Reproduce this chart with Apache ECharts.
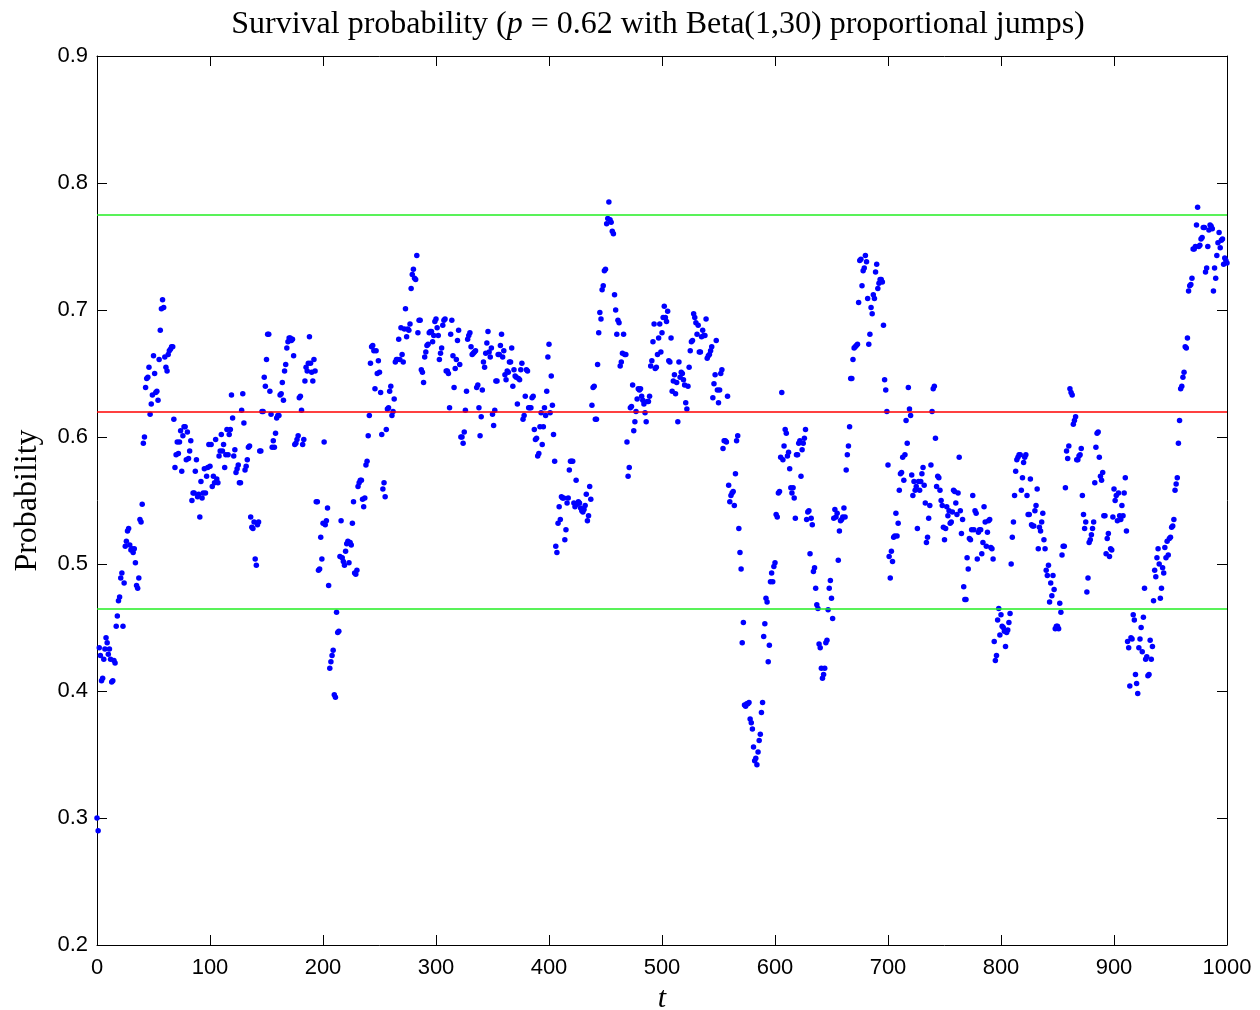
<!DOCTYPE html>
<html>
<head>
<meta charset="utf-8">
<script src="https://cdn.jsdelivr.net/npm/echarts@6/dist/echarts.min.js"></script>
<style>
  html, body { margin: 0; padding: 0; background: #fff; }
  #chart { width: 1260px; height: 1010px; }
</style>
</head>
<body>
<div id="chart"></div>
<script>
// survival probability, one value per step t, split in chunks
const probT000 = [0.300,0.290,0.434,0.428,0.408,0.410,0.425,0.433,0.442,0.438,0.429,0.433,0.425,0.407,0.408,0.424,0.422,0.451,0.459,0.471,
  0.474,0.489,0.493,0.451,0.485,0.514,0.518,0.526,0.528,0.515,0.511,0.512,0.509,0.512,0.501,0.483,0.481,0.489,0.535,0.533,
  0.547,0.595,0.600,0.639,0.646,0.647,0.655,0.618,0.626,0.633,0.664,0.650,0.635,0.636,0.629,0.661,0.684,0.701,0.708,0.702,
  0.663,0.655,0.652,0.665,0.668,0.669,0.671,0.671,0.614,0.576,0.586,0.596,0.587,0.596,0.605,0.573,0.601,0.608,0.608,0.582,
  0.604,0.583,0.589,0.597,0.550,0.556,0.556,0.573,0.582,0.553,0.555,0.537,0.565,0.552,0.556,0.575,0.556,0.569,0.576,0.594,
  0.577,0.594,0.561,0.569,0.564,0.598];
const probT106 = [0.567,0.564,0.585,0.589,0.602,0.589,0.594,0.576,0.586,0.606,0.586,0.602,0.606,0.633,0.615,0.585,
  0.590,0.572,0.575,0.578,0.564,0.564,0.621,0.634,0.611,0.574,0.577,0.582,0.592,0.593,0.537,0.529,0.528,0.533,0.504,0.499,
  0.531,0.533,0.589,0.589,0.620,0.620,0.647,0.640,0.661,0.681,0.681,0.636,0.618,0.592,0.597,0.592,0.603,0.615,0.617,0.617,
  0.633,0.634,0.643,0.629,0.652,0.657,0.670,0.675,0.678,0.678,0.676,0.677,0.664,0.594,0.595,0.598,0.601,0.631,0.632,0.621,
  0.594,0.598,0.644,0.655,0.652,0.658,0.679,0.658,0.651,0.644,0.661,0.652,0.549,0.549,0.495,0.496,0.521,0.504,0.532,0.596];
const probT202 = [0.531,0.534,0.544,0.483,0.418,0.423,0.428,0.432,0.397,0.395,0.462,0.446,0.447,
  0.506,0.534,0.505,0.502,0.499,0.510,0.516,0.518,0.501,0.517,0.515,0.532,0.549,0.493,0.492,0.495,0.561,0.564,0.566,0.566,
  0.551,0.545,0.552,0.578,0.581,0.601,0.617,0.658,0.671,0.672,0.668,0.638,0.668,0.650,0.660,0.651,0.635,0.602,0.559,0.564,
  0.553,0.606,0.622,0.623,0.636,0.640,0.617,0.620,0.630,0.659,0.661,0.661,0.677,0.661,0.686,0.665,0.659,0.685,0.701,0.679,
  0.685,0.684,0.689,0.717,0.728,0.732,0.725,0.724,0.743,0.682,0.692,0.692,0.653,0.651,0.643,0.663,0.667,0.672,0.673,0.682,
  0.683,0.683,0.675,0.680,0.691,0.693,0.686,0.680,0.661];
const probT304 = [0.666,0.670,0.688,0.692,0.693,0.652,0.652,0.650,0.623,0.681,0.692,0.664,0.639,0.654,0.661,0.676,0.684,0.657,0.600,0.600,
  0.595,0.604,0.621,0.636,0.677,0.680,0.682,0.671,0.665,0.666,0.667,0.668,0.639,0.641,0.623,0.601,0.616,0.637,0.659,0.655,
  0.666,0.674,0.683,0.667,0.663,0.670,0.618,0.609,0.621,0.644,0.644,0.665,0.665,0.672,0.681,0.663,0.668,0.649,0.645,0.652,
  0.651,0.659,0.659,0.670,0.640,0.653,0.648,0.647,0.626,0.646,0.645,0.653,0.658,0.614,0.617,0.632,0.653,0.652,0.623,0.623,
  0.623,0.631,0.632,0.606,0.598,0.599,0.585,0.587,0.608,0.619,0.594,0.608,0.623,0.617,0.636,0.663,0.673,0.619,0.648,0.625];
const probT404 = [0.602,0.581,0.514,0.509,0.532,0.545,0.535,0.553,0.552,0.552,0.519,0.527,0.548,0.552,0.574,0.581,0.581,0.581,0.548,0.545,
  0.566,0.547,0.549,0.548,0.544,0.542,0.541,0.543,0.546,0.555,0.534,0.538,0.561,0.551,0.625,0.639,0.640,0.614,0.614,0.657,
  0.682,0.698,0.693,0.716,0.719,0.731,0.732,0.768,0.772,0.785,0.771,0.769,0.762,0.760,0.712,0.700,
  0.681,0.692,0.690,0.656,0.659,0.666,0.681,0.665,0.665,0.596,0.569,0.576,0.623,0.624,0.641,0.605,0.612,0.620,0.630,0.638,
  0.637,0.638,0.632,0.629,0.626,0.619,0.612,0.628,0.628,0.632,0.656,0.660,0.675,0.689,0.654,0.655,0.665,0.678,0.689,0.667,
  0.682,0.694,0.703];
const probT503 = [0.694,0.691,0.699,0.660,0.659,0.678,0.636,0.644,0.649,0.634,0.643,0.612,0.659,0.647,0.651,0.650,0.645,0.641,0.627,0.622,
  0.640,0.655,0.668,0.675,0.676,0.697,0.694,0.690,0.681,0.688,0.667,0.667,0.679,0.684,0.680,0.680,0.693,0.662,0.664,0.665,
  0.668,0.671,0.631,0.642,0.649,0.676,0.637,0.627,0.637,0.650,0.653,0.591,0.597,0.597,0.596,0.632,0.562,0.549,0.554,0.556,
  0.557,0.546,0.571,0.597,0.601,0.528,0.509,0.496,0.438,0.454,0.389,0.388,0.390,0.390,0.391,0.378,0.375,0.370,0.356,0.345,
  0.347,0.342,0.352,0.361,0.366,0.383,0.391,0.443,0.453,0.473,0.470,0.423,0.436,0.486,0.493,0.486,0.498,0.501];
const probT601 = [0.539,0.537,0.556,0.557,0.584,0.635,0.582,0.593,0.606,0.603,0.585,0.588,0.575,0.560,0.556,0.560,0.552,0.536,0.586,0.586,
  0.595,0.597,0.569,0.590,0.595,0.599,0.606,0.535,0.541,0.542,0.508,0.536,0.531,0.494,0.497,0.481,0.468,0.465,0.437,0.434,
  0.418,0.410,0.413,0.418,0.438,0.440,0.464,0.481,0.487,0.473,0.457,0.536,0.543,0.537,0.540,0.503,0.526,0.534,0.535,0.537,
  0.544,0.537,0.574,0.586,0.593,0.608,0.646,0.646,0.661,0.670,0.671,0.672,0.673,0.706,0.739,0.740,0.719,0.731,0.733,0.743,
  0.738,0.709,0.673,0.681,0.702,0.697,0.712,0.709,0.730,0.736,0.717,0.721,0.724,0.724,0.722,0.688,0.645,0.637,0.620,0.578];
const probT701 = [0.506,0.489,0.510,0.502,0.521,0.522,0.540,0.522,0.532,0.558,0.571,0.572,0.584,0.566,0.586,0.613,0.595,0.639,0.622,0.617,
  0.570,0.554,0.565,0.558,0.561,0.528,0.565,0.558,0.565,0.571,0.576,0.562,0.548,0.517,0.521,0.536,0.546,0.578,0.620,0.638,
  0.640,0.599,0.561,0.569,0.568,0.558,0.550,0.546,0.529,0.519,0.528,0.545,0.538,0.542,0.532,0.533,0.541,0.558,0.557,0.548,
  0.539,0.556,0.584,0.542,0.524,0.535,0.482,0.472,0.472,0.505,0.496,0.520,0.519,0.527,0.554,0.527,0.542,0.540,0.504,0.525,
  0.527,0.527,0.508,0.517,0.545,0.533,0.514,0.525,0.534,0.535,0.513,0.512,0.504,0.439,0.424,0.428,0.456,0.465,0.444,0.460,
  0.451];
const probT802 = [0.450,0.447,0.435,0.446,0.448,0.454,0.461,0.500,0.521,0.533,0.554,0.573,0.582,0.584,0.586,0.586,0.558,0.568,0.580,0.584,
  0.586,0.554,0.539,0.539,0.567,0.531,0.530,0.530,0.542,0.546,0.559,0.512,0.529,0.526,0.533,0.540,0.519,0.512,0.495,0.491,
  0.499,0.470,0.485,0.475,0.491,0.480,0.449,0.451,0.451,0.449,0.469,0.462,0.507,0.514,0.514,0.560,0.589,0.583,0.593,0.638,
  0.635,0.633,0.610,0.613,0.616,0.582,0.582,0.585,0.586,0.591,0.554,0.539,0.528,0.533,0.478,0.489,0.517,0.519,0.523,0.528,
  0.533,0.564,0.592,0.603,0.604,0.584,0.569,0.566,0.572,0.538,0.538,0.508,0.520,0.524,0.506,0.512,0.511,0.537,0.559,0.550,
  0.554,0.534];
const probT904 = [0.556,0.538,0.535,0.546,0.538,0.556,0.568,0.526,0.439,0.434,0.404,0.442,0.441,0.460,0.456,0.413,0.406,0.398,0.434,
  0.441,0.450,0.431,0.458,0.481,0.425,0.427,0.412,0.413,0.440,0.425,0.435,0.471,0.495,0.490,0.505,0.512,0.500,0.473,0.481,
  0.497,0.493,0.513,0.505,0.518,0.507,0.520,0.521,0.529,0.530,0.535,0.558,0.563,0.568,0.595,0.613,0.638,0.640,0.647,0.651,
  0.671,0.670,0.678,0.715,0.719,0.720,0.725,0.748,0.748,0.750,0.767,0.781,0.750,0.751,0.756,0.757,0.765,0.765,0.730,0.733,
  0.750,0.763,0.767,0.766,0.764,0.715,0.733,0.725,0.743,0.753,0.761,0.749,0.755,0.756,0.736,0.741,0.739,0.737];

const pTarget = 0.62;              // red line
const bandLevels = [0.775, 0.465]; // green lines
const xTicks = [0, 1000, 100];
const yTicks = [0.2, 0.9, 0.1];

const probs = [].concat(probT000, probT106, probT202, probT304, probT404,
  probT503, probT601, probT701, probT802, probT904);
const points = probs.map((v, t) => [t, v]);

const chart = echarts.init(document.getElementById('chart'));

const tickFont = { fontFamily: 'Liberation Sans', fontSize: 22, color: '#000' };
const serif = 'Liberation Serif';

function axisBase(show) {
  return {
    axisLine: { show: true, onZero: false, lineStyle: { color: '#000', width: 1 } },
    axisTick: { show: true, inside: true, length: 10, lineStyle: { color: '#000' } },
    splitLine: { show: false },
    axisLabel: show ? Object.assign({}, tickFont) : { show: false }
  };
}

// one horizontal reference line per series, so each keeps its own colour
function refLine(level, color) {
  return {
    type: 'scatter',
    data: [],
    silent: true,
    markLine: {
      silent: true,
      symbol: 'none',
      precision: 3,
      label: { show: false },
      lineStyle: { color: color, width: 1.6, type: 'solid', opacity: 1 },
      emphasis: { disabled: true },
      data: [{ yAxis: level }]
    }
  };
}

chart.setOption({
  animation: false,
  backgroundColor: '#fff',
  title: {
    text: '{n|Survival probability (}{i|p}{n| = 0.62 with Beta(1,30) proportional jumps)}',
    left: 653,
    textAlign: 'center',
    top: 4,
    textStyle: {
      fontWeight: 'normal',
      rich: {
        n: { fontFamily: serif, fontSize: 32, fontWeight: 'normal', color: '#000' },
        i: { fontFamily: serif, fontSize: 32, fontWeight: 'normal', fontStyle: 'italic', color: '#000' }
      }
    }
  },
  grid: { left: 97, right: 33, top: 56, bottom: 65, containLabel: false, outerBoundsMode: 'none' },
  xAxis: [
    Object.assign(axisBase(true), {
      type: 'value', min: xTicks[0], max: xTicks[1], interval: xTicks[2],
      position: 'bottom',
      name: 't', nameLocation: 'middle', nameGap: 36,
      nameTextStyle: { fontFamily: serif, fontStyle: 'italic', fontSize: 30, color: '#000' },
      axisLabel: Object.assign({}, tickFont, { margin: 12, formatter: v => String(v) })
    }),
    Object.assign(axisBase(false), {
      type: 'value', min: xTicks[0], max: xTicks[1], interval: xTicks[2], position: 'top'
    })
  ],
  yAxis: [
    Object.assign(axisBase(true), {
      type: 'value', min: yTicks[0], max: yTicks[1], interval: yTicks[2],
      position: 'left',
      name: 'Probability', nameLocation: 'middle', nameGap: 53, nameRotate: 90,
      nameTextStyle: { fontFamily: serif, fontSize: 32, color: '#000' },
      axisLabel: Object.assign({}, tickFont, { margin: 9, formatter: v => v.toFixed(1) })
    }),
    Object.assign(axisBase(false), {
      type: 'value', min: yTicks[0], max: yTicks[1], interval: yTicks[2], position: 'right'
    })
  ],
  series: [
    {
      type: 'scatter',
      data: points,
      symbol: 'circle',
      symbolSize: 5.5,
      itemStyle: { color: '#0000ff', opacity: 1 },
      silent: true,
      z: 3
    },
    refLine(pTarget, '#ff0000'),
    refLine(bandLevels[0], '#22ee22'),
    refLine(bandLevels[1], '#22ee22')
  ]
});
</script>
</body>
</html>
